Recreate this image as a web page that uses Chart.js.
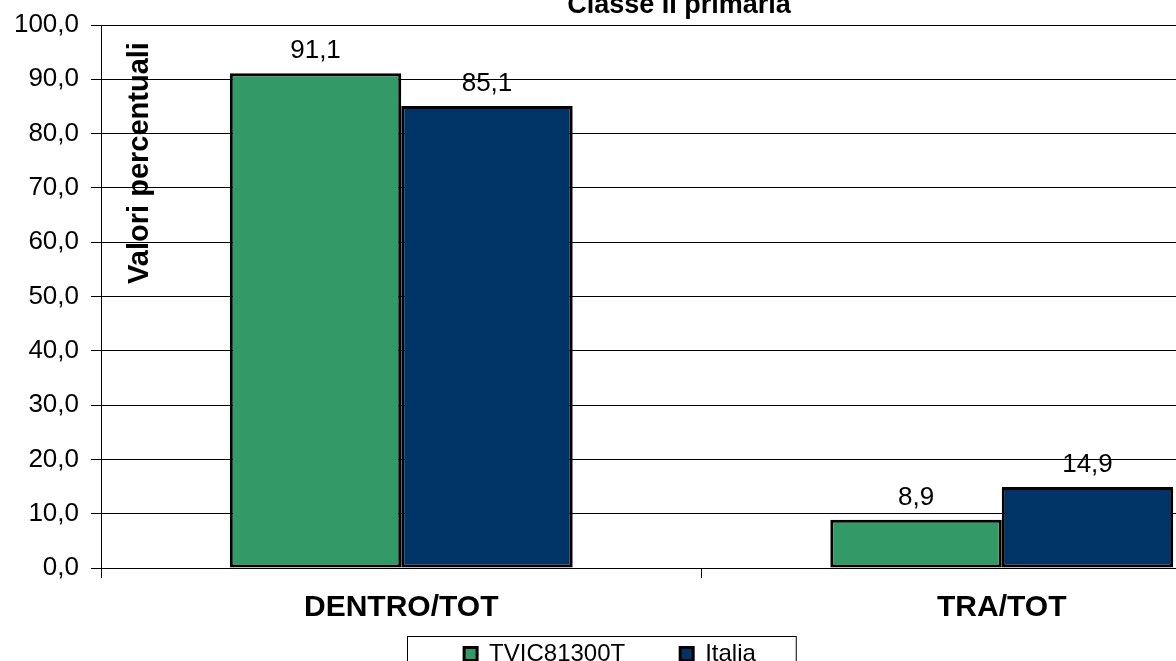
<!DOCTYPE html>
<html>
<head>
<meta charset="utf-8">
<script src="https://cdn.jsdelivr.net/npm/chart.js@4"></script>
<style>
  html, body { margin: 0; padding: 0; background: #fff; overflow: hidden; }
  #wrap { position: relative; width: 1302px; height: 676px; }
</style>
</head>
<body>
<div id="wrap"><canvas id="chart0"></canvas></div>
<script>
const categories = ['DENTRO/TOT', 'TRA/TOT'];
const seriesNames = ['TVIC81300T', 'Italia'];
const schoolValues = [91.1, 8.9];
const italyValues = [85.1, 14.9];
const yMin = 0, yMax = 100, yStep = 10;
const chartTitle = 'Classe II primaria';
const yTitle = 'Valori percentuali';

const fmt = v => v.toFixed(1).replace('.', ',');
const FONT = "'Liberation Sans', Arial, sans-serif";
Chart.defaults.font.family = FONT;
Chart.defaults.color = '#000';

// values above the bars, the title and the axis title that sits inside the plot
const extraText = {
    id: 'extraText',
    afterLayout(chart) {
        // x axis box is kept short so the legend sits close; let its labels draw below it
        chart.scales.x.bottom += 60;
    },
    afterDatasetsDraw(chart) {
        const ctx = chart.ctx;
        ctx.save();
        ctx.fillStyle = '#000';
        ctx.font = '26px ' + FONT;
        ctx.textAlign = 'center';
        ctx.textBaseline = 'alphabetic';
        chart.data.datasets.forEach((ds, i) => {
            chart.getDatasetMeta(i).data.forEach((bar, j) => {
                ctx.fillText(fmt(ds.data[j]), bar.x, bar.y - 15);
            });
        });
        ctx.restore();
    },
    afterDraw(chart) {
        const ctx = chart.ctx;
        ctx.save();
        ctx.fillStyle = '#000';
        ctx.textAlign = 'center';
        ctx.textBaseline = 'alphabetic';
        ctx.font = 'bold 27px ' + FONT;
        ctx.fillText(chartTitle, 679, 13);

        ctx.translate(148, 163);
        ctx.rotate(-Math.PI / 2);
        ctx.font = 'bold 29px ' + FONT;
        ctx.fillText(yTitle, 0, 0);
        ctx.restore();

        // frame round the legend
        const lg = chart.legend;
        const hb = lg.legendHitBoxes;
        const left = hb[0].left - 57;
        const right = hb[hb.length - 1].left + hb[hb.length - 1].width + 40;
        ctx.save();
        ctx.strokeStyle = '#000';
        ctx.lineWidth = 1;
        ctx.strokeRect(Math.round(left) + 0.5, lg.top + 49.5, right - left, 100);
        ctx.restore();
    }
};

const canvas0 = document.getElementById('chart0');
const chart0 = new Chart(canvas0, {
    type: 'bar',
    data: {
        labels: categories,
        datasets: [
            {
                label: seriesNames[0],
                data: schoolValues,
                backgroundColor: '#339966',
                borderColor: '#000',
                borderWidth: 3,
                borderSkipped: false,
            },
            {
                label: seriesNames[1],
                data: italyValues,
                backgroundColor: '#003366',
                borderColor: '#000',
                borderWidth: 3,
                borderSkipped: false,
            }
        ]
    },
    options: {
        responsive: true,
        maintainAspectRatio: false,
        animation: false,
        devicePixelRatio: 1,
        datasets: { bar: { categoryPercentage: 0.571, barPercentage: 1 } },
        layout: { padding: { left: -82, right: 0, top: 25, bottom: 0 } },
        plugins: {
            title: { display: false },
            tooltip: { enabled: false },
            legend: {
                position: 'bottom',
                labels: {
                    boxWidth: 13,
                    boxHeight: 13,
                    padding: 55,
                    color: '#000',
                    font: { size: 24 }
                }
            }
        },
        scales: {
            x: {
                offset: true,
                afterFit: s => { s.height = 19; },
                grid: {
                    offset: true,
                    drawOnChartArea: false,
                    drawTicks: true,
                    tickLength: 10,
                    color: '#000'
                },
                border: { color: '#000', width: 1 },
                ticks: {
                    color: '#000',
                    padding: 12,
                    autoSkip: false,
                    font: { size: 30, weight: 'bold' }
                }
            },
            y: {
                min: yMin,
                max: yMax,
                afterFit: s => { s.width = 183; },
                grid: { color: '#000', tickLength: 10 },
                border: { color: '#000', width: 1 },
                ticks: {
                    stepSize: yStep,
                    padding: 12,
                    color: '#000',
                    font: { size: 26, lineHeight: 1 },
                    callback: v => fmt(v)
                }
            }
        }
    },
    plugins: [extraText]
});
</script>
</body>
</html>
